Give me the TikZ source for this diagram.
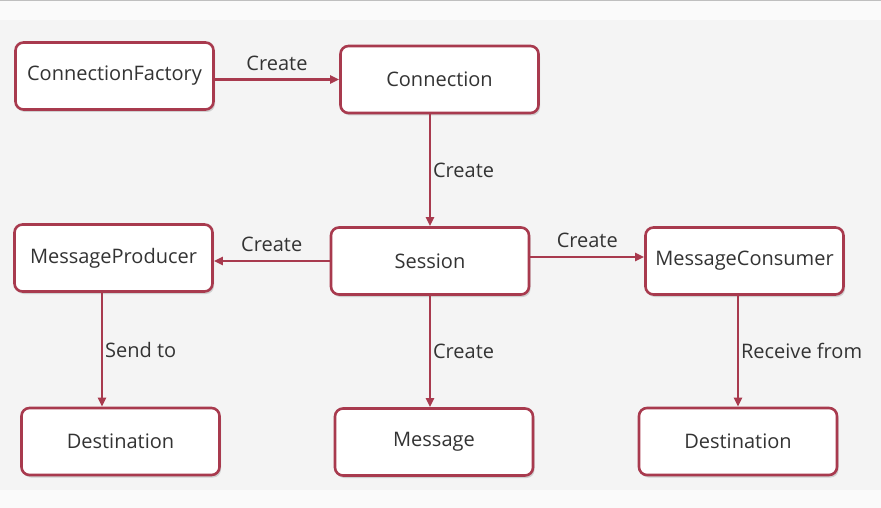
\documentclass[tikz,border=0pt]{standalone}
\usepackage{fontspec}
\setmainfont{Open Sans}
\usetikzlibrary{arrows.meta,shadows}
\definecolor{edgecol}{HTML}{A83A4E}
\definecolor{txtcol}{HTML}{333333}
\definecolor{panel}{HTML}{F4F4F4}
\definecolor{outer}{HTML}{FAFAFA}
\begin{document}
\begin{tikzpicture}[x=1pt,y=-1pt,
  box/.style={draw=edgecol, line width=2.6pt, rounded corners=8pt, fill=white,
    minimum width=198pt, minimum height=67pt, text=txtcol,
    font=\fontsize{20}{24}\selectfont,
    drop shadow={shadow xshift=1.5pt, shadow yshift=-2.5pt, opacity=0.25, fill=black!60}},
  arr/.style={draw=edgecol, line width=2.2pt, -{Triangle[length=9pt,width=8pt]}},
  lbl/.style={text=txtcol, font=\fontsize{20}{24}\selectfont, inner sep=2pt}]
\useasboundingbox (0,0) rectangle (881,508);
\fill[outer] (0,0) rectangle (881,508);
\fill[panel] (0,20) rectangle (881,490);
\draw[black!25, line width=1.5pt] (0,0.75) -- (881,0.75);

\node[box] (cf)   at (114.5,76)  {ConnectionFactory};
\node[box] (conn) at (439.5,79.5){Connection};
\node[box] (sess) at (430,261)   {Session};
\node[box] (mp)   at (113.5,258) {MessageProducer};
\node[box] (mc)   at (744.5,261) {MessageConsumer};
\node[box] (d1)   at (120.5,441.5){Destination};
\node[box] (msg)  at (434,442)   {Message};
\node[box] (d2)   at (738,441.5) {Destination};

\draw[arr] (cf.east |- conn.west) -- node[lbl, above=6pt] {Create} (conn.west);
\draw[arr] (conn.south -| sess.north) -- node[lbl, right] {Create} (sess.north);
\draw[arr] (sess.west) -- node[lbl, above=6pt] {Create} (sess.west -| mp.east);
\draw[arr] ([yshift=4pt]sess.east) -- node[lbl, above=6pt] {Create} ([yshift=4pt]mc.west);
\draw[arr] ([xshift=-11.5pt]mp.south) -- node[lbl, right] {Send to} ([xshift=-11.5pt]mp.south |- d1.north);
\draw[arr] (sess.south) -- node[lbl, right] {Create} (sess.south |- msg.north);
\draw[arr] (mc.south -| d2.north) -- node[lbl, right] {Receive from} (d2.north);
\end{tikzpicture}
\end{document}
